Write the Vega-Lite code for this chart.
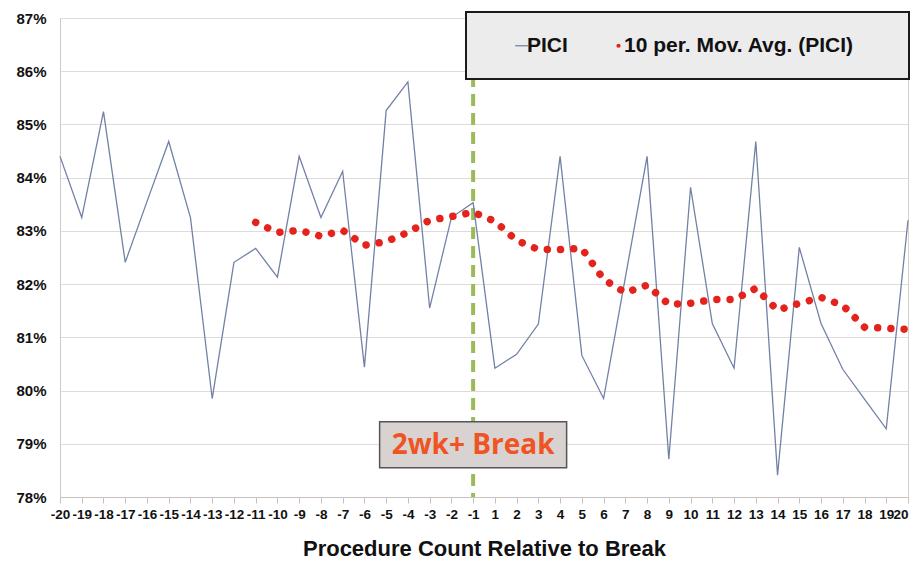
{
  "$schema": "https://vega.github.io/schema/vega-lite/v6.json",
  "width": 848,
  "height": 479,
  "autosize": {"type": "none"},
  "padding": {"left": 60, "top": 18, "right": 4, "bottom": 65},
  "background": "white",
  "config": {
    "view": {"stroke": "#d6cfcf", "strokeWidth": 1},
    "font": "Liberation Sans",
    "axisY": {
      "title": null,
      "labelFont": "Liberation Sans",
      "labelFontSize": 15,
      "labelFontWeight": "bold",
      "labelColor": "#111111",
      "labelPadding": 14,
      "ticks": false,
      "tickSize": 0,
      "domainColor": "#cfc8c8",
      "grid": true,
      "gridColor": "#e2dada",
      "gridWidth": 1.2
    },
    "legend": {
      "orient": "none",
      "legendX": 406,
      "legendY": -6,
      "direction": "horizontal",
      "fillColor": "#ececec",
      "strokeColor": "#1b1b1b",
      "strokeWidth": 2,
      "padding": 23,
      "labelFont": "Liberation Sans",
      "labelFontWeight": "bold",
      "labelFontSize": 21,
      "labelColor": "#111111",
      "labelLimit": 400,
      "symbolSize": 18,
      "symbolStrokeWidth": 0,
      "symbolOffset": 22,
      "labelOffset": -5,
      "columnPadding": 18,
      "titleOrient": "right",
      "titleFontSize": 1,
      "titlePadding": 32
    }
  },
  "data": {
    "values": [
      {"n": -20, "pici": 84.40, "ma": null},
      {"n": -19, "pici": 83.25, "ma": null},
      {"n": -18, "pici": 85.24, "ma": null},
      {"n": -17, "pici": 82.41, "ma": null},
      {"n": -16, "pici": 83.55, "ma": null},
      {"n": -15, "pici": 84.68, "ma": null},
      {"n": -14, "pici": 83.25, "ma": null},
      {"n": -13, "pici": 79.85, "ma": null},
      {"n": -12, "pici": 82.41, "ma": null},
      {"n": -11, "pici": 82.67, "ma": 83.16},
      {"n": -10, "pici": 82.13, "ma": 82.97},
      {"n": -9, "pici": 84.40, "ma": 83.01},
      {"n": -8, "pici": 83.25, "ma": 82.90},
      {"n": -7, "pici": 84.12, "ma": 83.01},
      {"n": -6, "pici": 80.44, "ma": 82.73},
      {"n": -5, "pici": 85.26, "ma": 82.80},
      {"n": -4, "pici": 85.80, "ma": 82.97},
      {"n": -3, "pici": 81.55, "ma": 83.20},
      {"n": -2, "pici": 83.25, "ma": 83.27},
      {"n": -1, "pici": 83.53, "ma": 83.35},
      {"n": 1, "pici": 80.42, "ma": 83.18},
      {"n": 2, "pici": 80.68, "ma": 82.82},
      {"n": 3, "pici": 81.25, "ma": 82.65},
      {"n": 4, "pici": 84.40, "ma": 82.65},
      {"n": 5, "pici": 80.66, "ma": 82.67},
      {"n": 6, "pici": 79.85, "ma": 82.09},
      {"n": 7, "pici": 82.12, "ma": 81.84},
      {"n": 8, "pici": 84.40, "ma": 81.98},
      {"n": 9, "pici": 78.71, "ma": 81.62},
      {"n": 10, "pici": 83.82, "ma": 81.64},
      {"n": 11, "pici": 81.26, "ma": 81.71},
      {"n": 12, "pici": 80.42, "ma": 81.71},
      {"n": 13, "pici": 84.68, "ma": 81.92},
      {"n": 14, "pici": 78.41, "ma": 81.51},
      {"n": 15, "pici": 82.69, "ma": 81.64},
      {"n": 16, "pici": 81.26, "ma": 81.75},
      {"n": 17, "pici": 80.40, "ma": 81.60},
      {"n": 18, "pici": 79.84, "ma": 81.19},
      {"n": 19, "pici": 79.28, "ma": 81.17},
      {"n": 20, "pici": 83.20, "ma": 81.15}
    ]
  },
  "encoding": {
    "x": {
      "field": "n",
      "type": "ordinal",
      "scale": {
        "type": "point",
        "padding": 0,
        "domain": [-20, -19, -18, -17, -16, -15, -14, -13, -12, -11, -10, -9, -8, -7, -6, -5, -4, -3, -2, -1, 1, 2, 3, 4, 5, 6, 7, 8, 9, 10, 11, 12, 13, 14, 15, 16, 17, 18, 19, 20]
      },
      "axis": {
        "title": "Procedure Count Relative to Break",
        "titleFont": "Liberation Sans",
        "titleFontSize": 22,
        "titleFontWeight": "bold",
        "titleColor": "#111111",
        "titlePadding": 18,
        "labelFont": "Liberation Sans",
        "labelFontSize": 13.5,
        "labelFontWeight": "bold",
        "labelColor": "#111111",
        "labelAngle": 0,
        "labelPadding": 4,
        "labelOverlap": false,
        "labelBound": false,
        "labelAlign": {"condition": {"test": "datum.value == 20", "value": "right"}, "value": "center"},
        "labelDx": {"condition": {"test": "datum.value == 20", "value": 4}, "value": 0},
        "tickColor": "#c9c1c1",
        "tickSize": 6,
        "domainColor": "#c9c1c1",
        "grid": false
      }
    }
  },
  "layer": [
    {
      "data": {"values": [{"n": -1}]},
      "mark": {"type": "rule", "color": "#9bbb59", "strokeWidth": 4, "strokeDash": [12, 7]}
    },
    {
      "mark": {"type": "line", "color": "#7282a6", "strokeWidth": 1.3},
      "encoding": {
        "y": {
          "field": "pici",
          "type": "quantitative",
          "scale": {"domain": [78, 87], "nice": false, "zero": false},
          "axis": {"title": null, "values": [78, 79, 80, 81, 82, 83, 84, 85, 86, 87], "labelExpr": "datum.value + '%'"}
        }
      }
    },
    {
      "transform": [{"filter": "isValid(datum.ma)"}],
      "mark": {"type": "line", "color": "#e4231c", "strokeWidth": 7.5, "strokeCap": "round", "strokeDash": [0.01, 13.2]},
      "encoding": {
        "y": {
          "field": "ma",
          "type": "quantitative",
          "axis": {"title": null, "values": [78, 79, 80, 81, 82, 83, 84, 85, 86, 87], "labelExpr": "datum.value + '%'"}
        }
      }
    },
    {
      "data": {"values": [{"n": -1, "y": 78.98, "t": "2wk+ Break"}]},
      "mark": {"type": "point", "shape": "M-1,-0.246H1V0.246H-1Z", "size": 34969, "filled": true, "fill": "#d8d3d0", "stroke": "#555555", "strokeWidth": 1.5, "opacity": 1},
      "encoding": {
        "y": {
          "field": "y",
          "type": "quantitative",
          "axis": {"title": null, "values": [78, 79, 80, 81, 82, 83, 84, 85, 86, 87], "labelExpr": "datum.value + '%'"}
        }
      }
    },
    {
      "data": {"values": [{"n": -1, "y": 78.98, "t": "2wk+ Break"}]},
      "mark": {"type": "text", "font": "Open Sans", "fontWeight": "bold", "fontSize": 28, "color": "#ef5424", "align": "center", "baseline": "middle", "dy": 1},
      "encoding": {
        "y": {
          "field": "y",
          "type": "quantitative",
          "axis": {"title": null, "values": [78, 79, 80, 81, 82, 83, 84, 85, 86, 87], "labelExpr": "datum.value + '%'"}
        },
        "text": {"field": "t", "type": "nominal"}
      }
    },
    {
      "data": {"values": []},
      "mark": {"type": "point", "filled": true, "size": 18, "opacity": 1},
      "encoding": {
        "color": {
          "field": "s",
          "type": "nominal",
          "scale": {"domain": ["PICI", "10 per. Mov. Avg. (PICI)"], "range": ["#7282a6", "#e4231c"]},
          "legend": {"title": " "}
        },
        "shape": {
          "field": "s",
          "type": "nominal",
          "scale": {"domain": ["PICI", "10 per. Mov. Avg. (PICI)"], "range": ["M-3,-0.3H3V0.3H-3Z", "circle"]},
          "legend": {"title": " "}
        }
      }
    }
  ]
}
